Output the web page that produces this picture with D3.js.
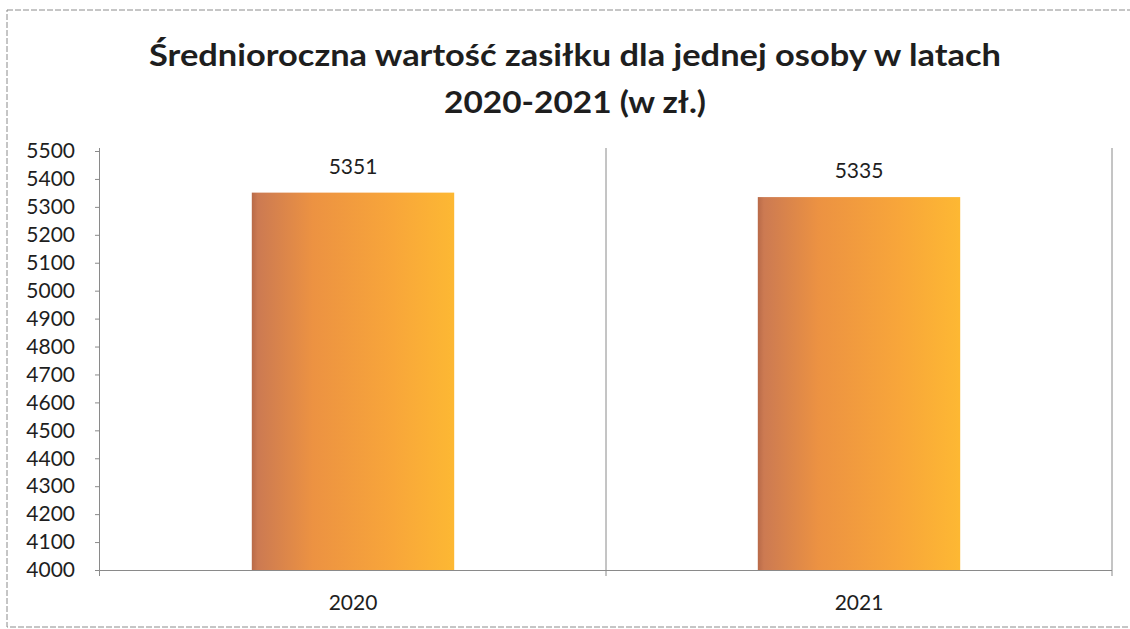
<!DOCTYPE html>
<html><head><meta charset="utf-8">
<script src="https://cdn.jsdelivr.net/npm/d3@7"></script>
<style>body{margin:0;background:#fff}svg{display:block}text{font-family:Lato,"Open Sans",sans-serif;fill:#1e1e1e}</style>
</head><body><svg id="c" width="1130" height="629"></svg>
<script>
const titleLines = ["Średnioroczna wartość zasiłku dla jednej osoby w latach", "2020-2021 (w zł.)"];
const titleWidths = [852, 262];
const categories = ["2020", "2021"];
const values = [5351, 5335];
const yTicks = [4000,4100,4200,4300,4400,4500,4600,4700,4800,4900,5000,5100,5200,5300,5400,5500];
const yDomain = [4000, 5500];

const svg = d3.select("#c");
const L = 100, R = 1112, T = 151, B = 570;

// outer border
svg.append("rect").attr("x",7).attr("y",10).attr("width",1140).attr("height",617)
  .attr("fill","none").attr("stroke","#8c8c8c").attr("stroke-width",1).attr("stroke-dasharray","6,2");

// title
svg.append("g").selectAll("text").data(titleLines).join("text")
  .attr("x",575).attr("y",(d,i)=>66+i*47).attr("text-anchor","middle")
  .attr("textLength",(d,i)=>titleWidths[i]).attr("lengthAdjust","spacingAndGlyphs")
  .style("font-weight","bold").style("font-size","31px").text(d=>d);

const x = d3.scaleBand().domain(categories).range([L,R]).paddingInner(0.6).paddingOuter(0.3);
const xb = d3.scaleBand().domain(categories).range([L,R]).padding(0);
const y = d3.scaleLinear().domain(yDomain).range([B,T]);

// gradient
const defs = svg.append("defs");
const g = defs.append("linearGradient").attr("id","bg").attr("x1","0").attr("x2","1").attr("y1","0").attr("y2","0");
[[0,"#b86a48"],[0.03,"#cc7a52"],[0.3,"#ec9242"],[0.7,"#f8a63a"],[1,"#fdb833"]].forEach(s=>
  g.append("stop").attr("offset",s[0]).attr("stop-color",s[1]));

// vertical category gridlines
svg.append("g").selectAll("line").data(categories).join("line")
  .attr("x1",d=>xb(d)+xb.bandwidth()).attr("x2",d=>xb(d)+xb.bandwidth())
  .attr("y1",T-3).attr("y2",B+6).attr("stroke","#8a8a8a").attr("stroke-width",1);

// bars
svg.append("g").selectAll("rect").data(values).join("rect")
  .attr("x",(d,i)=>x(categories[i])).attr("width",x.bandwidth())
  .attr("y",d=>y(d)).attr("height",d=>B-y(d)).attr("fill","url(#bg)");

// y axis
const ya = svg.append("g").attr("transform",`translate(${L},0)`)
  .call(d3.axisLeft(y).tickValues(yTicks).tickSize(5).tickPadding(20).tickFormat(d3.format("d")));
ya.select(".domain").attr("stroke","#8a8a8a").attr("d",`M-0.5,${T-3}V${B+6}`);
ya.selectAll(".tick line").attr("stroke","#8a8a8a");
ya.selectAll("text").style("font-size","21px").attr("fill","#1e1e1e");

// x axis line
svg.append("line").attr("x1",L).attr("x2",R).attr("y1",B+0.5).attr("y2",B+0.5).attr("stroke","#8a8a8a");

// x labels
svg.append("g").selectAll("text").data(categories).join("text")
  .attr("x",d=>x(d)+x.bandwidth()/2).attr("y",610).attr("text-anchor","middle")
  .style("font-size","21px").text(d=>d);

// data labels
svg.append("g").selectAll("text").data(values).join("text")
  .attr("x",(d,i)=>x(categories[i])+x.bandwidth()/2).attr("y",d=>y(d)-19).attr("text-anchor","middle")
  .style("font-size","21px").text(d=>d);
</script></body></html>
